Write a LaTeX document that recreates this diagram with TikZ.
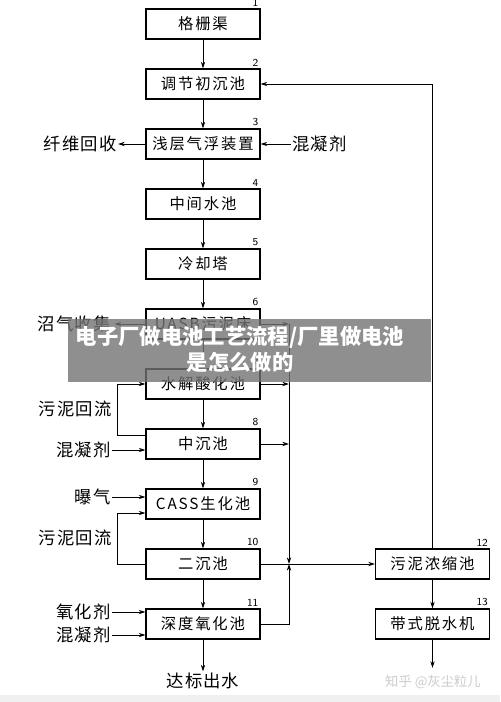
\documentclass[tikz,border=0pt]{standalone}
\usepackage{fontspec}
\setmainfont{Liberation Serif}
\newfontfamily\cjk{Noto Sans CJK SC}[LetterSpace=12]
\newfontfamily\cjkl{Noto Sans CJK SC}[LetterSpace=6]
\newfontfamily\cjkt{Noto Sans CJK SC}
\usetikzlibrary{arrows.meta}
\tikzset{
  box/.style={draw,line width=0.9pt,minimum width=85.5pt,minimum height=22.5pt,
    inner sep=0pt,font=\cjk\fontsize{11.5}{12}\selectfont},
  lbl/.style={inner sep=1pt,font=\cjkl\fontsize{13}{14}\selectfont},
  num/.style={anchor=south east,inner sep=0.5pt,font=\sffamily\fontsize{8}{8}\selectfont},
  flow/.style={-{Stealth[length=5pt,width=3.2pt]},line width=0.6pt},
  wire/.style={line width=0.6pt}
}
\begin{document}
\begin{tikzpicture}[x=0.75pt,y=-0.75pt]
 \useasboundingbox[fill=white](0,0) rectangle (500,702);
 \fill[black!6](0,695) rectangle (500,702);
 % main line
 \node[box] (b1) at (203,24) {格栅渠};
 \node[box] (b2) at (203,84) {调节初沉池};
 \node[box] (b3) at (203,144) {浅层气浮装置};
 \node[box] (b4) at (203,204) {中间水池};
 \node[box] (b5) at (203,264) {冷却塔};
 \node[box] (b6) at (203,324) {UASB污泥床};
 \node[box] (b7) at (203,384) {水解酸化池};
 \node[box] (b8) at (203,444) {中沉池};
 \node[box] (b9) at (203,504) {CASS生化池};
 \node[box] (b10) at (203,564) {二沉池};
 \node[box] (b11) at (203,624) {深度氧化池};
 \node[box] (b12) at (432.5,564) {污泥浓缩池};
 \node[box] (b13) at (432.5,624) {带式脱水机};
 \foreach \i in {1,...,13}
   \node[num] at ([xshift=-1pt,yshift=1pt]b\i.north east) {\i};
 \node[lbl] (out) at (203,681) {达标出水};
 \coordinate (out13) at (432.5,668);
 \foreach \a/\b in {b1/b2,b2/b3,b3/b4,b4/b5,b5/b6,b6/b7,b7/b8,b8/b9,b9/b10,b10/b11,b12/b13}
   \draw[flow] (\a.south) -- (\b.north);
 \draw[flow] (b11.south) -- (out.north);
 \draw[flow] (b13.south) -- (out13);
 % side inputs and outputs
 \node[lbl,anchor=east] (fib) at (118,144) {纤维回收};
 \node[lbl,anchor=west] (coag3) at (291,144) {混凝剂};
 \node[lbl,anchor=east] (gas) at (112,324) {沼气收集};
 \node[lbl,anchor=east] (ret1) at (113,409) {污泥回流};
 \node[lbl,anchor=east] (coag8) at (112,450) {混凝剂};
 \node[lbl,anchor=east] (air) at (112,497) {曝气};
 \node[lbl,anchor=east] (ret2) at (113,538) {污泥回流};
 \node[lbl,anchor=east] (oxi) at (112,612) {氧化剂};
 \node[lbl,anchor=east] (coag11) at (112,635) {混凝剂};
 \draw[flow] (b3.west) -- (fib.east);
 \draw[flow] (coag3.west) -- (b3.east);
 \draw[flow] (b6.west) -- ([xshift=2pt]gas.east);
 \draw[flow] (coag8.east) -- (coag8.east -| b8.west);
 \draw[flow] (air.east) -- (air.east -| b9.west);
 \draw[flow] (oxi.east) -- (oxi.east -| b11.west);
 \draw[flow] (coag11.east) -- (coag11.east -| b11.west);
 % sludge return
 \coordinate (r1) at (117,435);
 \coordinate (r2) at (117,564);
 \draw[flow] (r1 -| b8.west) -- (r1) |- (b7.west);
 \draw[flow] (b10.west) -- (r2) |- ([yshift=-6.75pt]b9.west);
 % collecting line
 \coordinate (j) at (289,564);
 \draw[flow] (b6.east) -- (b6.east -| j);
 \draw[flow] (b7.east) -- (b7.east -| j);
 \draw[flow] (b8.east) -- (b8.east -| j);
 \draw[flow] (b6.east -| j) -- (j);
 \draw[flow] (b11.east) -| (j);
 \draw[flow] (b10.east) -- (b12.west);
 \draw[flow] (b12.north) |- (b2.east);
 % caption banner and mark
 \fill[black!55,opacity=0.8] (68,319) rectangle (431,382);
 \node[text=white,align=center,font=\cjkt\bfseries\fontsize{16}{19.5}\selectfont] (cap) at (240,349)
   {电子厂做电池工艺流程/厂里做电池\\是怎么做的};
 \node[text=black!20,font=\cjkt\fontsize{10}{10}\selectfont] (mark) at (433,682) {知乎 @灰尘粒儿};
\end{tikzpicture}
\end{document}
